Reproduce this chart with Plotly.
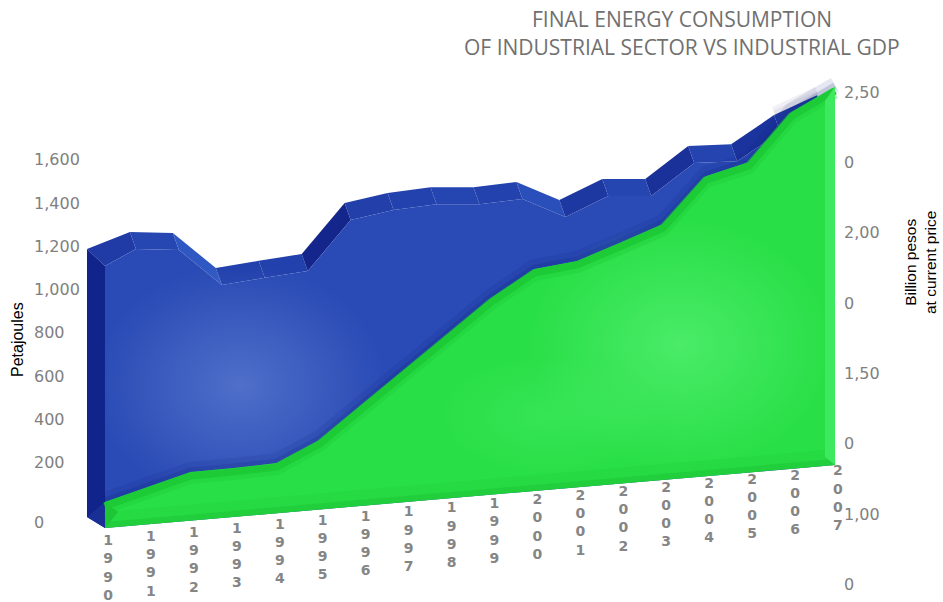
import numpy as np
import plotly.graph_objects as go

years = list(range(1990, 2008))
# Final energy consumption of the industrial sector (Petajoules)
energy = [1187, 1249, 1227, 1048, 1064, 1078, 1297, 1326, 1336, 1319,
          1326, 1225, 1305, 1288, 1424, 1415, 1532, 1607]
# Industrial GDP (billion pesos, right-hand scale)
gdp = [1.266, 1.307, 1.347, 1.348, 1.352, 1.421, 1.536, 1.647, 1.758, 1.873,
       1.963, 1.979, 2.030, 2.084, 2.241, 2.278, 2.443, 2.519]
gdp_floor = 1.174

left_tick_values = [-78, 200, 400, 600, 800, 1000, 1200, 1400, 1600]
left_tick_labels = ["0", "200", "400", "600", "800", "1,000", "1,200", "1,400", "1,600"]
right_tick_values = [0.75, 1.0, 1.25, 1.5, 1.75, 2.0, 2.25, 2.5]
right_tick_labels = ["0", "1,00", "0", "1,50", "0", "2,00", "0", "2,50"]
title_lines = ["FINAL ENERGY CONSUMPTION", "OF INDUSTRIAL SECTOR VS INDUSTRIAL GDP"]

W, H = 943, 602
PX_YEAR = 42.94
PX_E = 0.2165
PX_G = 281.2
xrange_ = [1990 - 105 / PX_YEAR, 1990 + (W - 105) / PX_YEAR]
yrange = [(506 - H) / PX_E, 506 / PX_E]
y2range = [1 + (514 - H) / PX_G, 1 + 514 / PX_G]
DEPTH_X = 18 / PX_YEAR
TILT_PX = 3.7  # rise of the floor per year, in pixels
yr = np.array(years, float)
idx = yr - 1990


def dE(px):
    return px / PX_E


def dG(px):
    return px / PX_G


e_back = np.array(energy) + dE(TILT_PX) * idx          # sheared back edge
x_back = yr - DEPTH_X
x_face = yr - DEPTH_X + 6 / PX_YEAR
x_face[0] = yr[0]
e_face = e_back - dE(17)
floor_e = dE(506 - 528) + dE(TILT_PX) * idx
g_top = np.array(gdp) - dG(TILT_PX) * (2007 - yr)
g_floor = gdp_floor - dG(TILT_PX) * (2007 - yr)

fig = go.Figure()


def poly(x, y, color, axis="y", **kw):
    fig.add_trace(go.Scatter(x=list(x), y=list(y), yaxis=axis, mode="lines", fill="toself",
                             fillcolor=color, line=dict(width=0, color=color),
                             hoverinfo="skip", showlegend=False, **kw))


def stroke(x, y, color, width, axis="y"):
    fig.add_trace(go.Scatter(x=list(x), y=list(y), yaxis=axis, mode="lines",
                             line=dict(color=color, width=width), hoverinfo="skip", showlegend=False))


def mix(a, b, t):
    return "rgb(%d,%d,%d)" % tuple(a[k] + (b[k] - a[k]) * t for k in range(3))


def facet(s):
    flat, dark, light = (38, 70, 178), (20, 38, 140), (48, 88, 194)
    return mix(flat, dark, min(-s / 1.2, 1)) if s < 0 else mix(flat, light, min(s / 0.8, 1))


def glow(cx, cy, rx, ry, axis, rgb, alpha):
    t = np.linspace(0, 2 * np.pi, 90)
    conv_y = (lambda p: (506 - p) / PX_E) if axis == "y" else (lambda p: 1 + (514 - p) / PX_G)
    xs = 1990 + (cx - 105 + rx * np.cos(t)) / PX_YEAR
    ys = conv_y(cy + ry * np.sin(t))
    fig.add_trace(go.Scatter(
        x=list(xs), y=list(ys), yaxis=axis, mode="none", fill="toself",
        fillgradient=dict(type="radial", colorscale=[[0, "rgba(%d,%d,%d,%.2f)" % (*rgb, alpha)],
                                                     [0.5, "rgba(%d,%d,%d,%.2f)" % (*rgb, alpha * 0.5)],
                                                     [1, "rgba(%d,%d,%d,0)" % rgb]]),
        hoverinfo="skip", showlegend=False))


# halo behind the top right corner
stroke(x_back[-2:], e_back[-2:] + dE(4), "rgba(120,110,150,0.10)", 9)
stroke(x_back[-2:], e_back[-2:] + dE(2), "rgba(120,110,150,0.10)", 5)

# chamfer strip of the blue volume, one facet per year
for i in range(len(years) - 1):
    s = (e_back[i] - e_back[i + 1]) * PX_E / 43
    poly([x_back[i], x_back[i + 1], x_face[i + 1], x_face[i]],
         [e_back[i], e_back[i + 1], e_face[i + 1], e_face[i]], facet(s))

# front face of the blue volume
poly(list(x_face) + list(yr[::-1]), list(e_face) + list(floor_e[::-1]), "#2a4ab5")
glow(240, 385, 145, 120, "y", (104, 136, 216), 0.6)

# side wall of the blue volume
poly([x_back[0], yr[0], yr[0], x_back[0]],
     [e_back[0], e_face[0], floor_e[0], dE(506 - 517)], "#10248c")
poly([x_back[0], yr[0], yr[0]],
     [dE(506 - 517), dE(506 - 502), floor_e[0]], "#1a2f96")

# dark shade that the green volume casts on the blue one
stroke(yr, g_top + dG(2), "rgba(14,28,120,0.10)", 16, "y2")
stroke(yr, g_top + dG(1), "rgba(14,28,120,0.16)", 7, "y2")

# green volume
poly(list(yr) + list(yr[::-1]), list(g_top) + list(g_floor[::-1]), "#29df47", "y2")
glow(550, 415, 110, 60, "y2", (80, 240, 112), 0.35)
glow(680, 345, 152, 125, "y2", (96, 244, 126), 0.6)
stroke(yr, g_floor + dG(8), "rgba(22,190,48,0.16)", 16, "y2")
stroke(yr, g_floor + dG(3), "rgba(22,180,48,0.30)", 6, "y2")
stroke(yr, g_top - dG(6), "rgba(28,203,54,0.35)", 12, "y2")
stroke(yr, g_top - dG(4), "#1ccb36", 7, "y2")
# light right-hand edge
edge = 10 / PX_YEAR
edge_top = g_top[-1] - (g_top[-1] - g_top[-2]) * edge
poly([yr[-1], yr[-1] - edge, yr[-1] - edge, yr[-1]],
     [g_top[-1], edge_top - dG(8), g_floor[-1] + dG(8), g_floor[-1]], "#3de95f", "y2")
# dark left-hand corner
poly([yr[0], yr[0] + 13 / PX_YEAR, yr[0]],
     [g_top[0], g_top[0] - dG(10), g_floor[0]], "#1cc636", "y2")

# year labels, stacked digit by digit along the tilted floor
fig.add_trace(go.Scatter(
    x=list(yr + 3 / PX_YEAR),
    y=list(dE(506 - 569) + dE(4.1) * idx),
    yaxis="y", mode="text",
    text=["<br>".join(str(y)) for y in years],
    textposition="middle center",
    textfont=dict(family="DejaVu Sans", size=14, color="#858585", weight="bold"),
    hoverinfo="skip", showlegend=False, cliponaxis=False))

tick_font = dict(family="DejaVu Sans", size=16, color="#808080")
title_font = dict(family="Open Sans", size=21, color="#707070")
label_font = dict(family="Liberation Sans", size=15.5, color="#000000")
left_label_font = dict(family="Liberation Sans", size=16, color="#000000")


def note(text, x, y, font, **kw):
    return dict(text=text, x=x / W, y=1 - y / H, xref="paper", yref="paper", showarrow=False,
                xanchor="center", yanchor="middle", font=font, **kw)


fig.update_layout(
    width=W, height=H, margin=dict(l=0, r=0, t=0, b=0), autosize=False,
    paper_bgcolor="white", plot_bgcolor="white",
    xaxis=dict(range=xrange_, visible=False, fixedrange=True),
    yaxis=dict(range=yrange, side="right", anchor="free", position=33 / W,
               showgrid=False, zeroline=False, showline=False, ticks="",
               tickmode="array", tickvals=left_tick_values, ticktext=left_tick_labels,
               tickfont=tick_font, fixedrange=True),
    yaxis2=dict(range=y2range, overlaying="y", side="right", anchor="free", position=843 / W,
                showgrid=False, zeroline=False, showline=False, ticks="",
                tickmode="array", tickvals=right_tick_values, ticktext=right_tick_labels,
                tickfont=tick_font, fixedrange=True),
    annotations=[
        note(title_lines[0], 681.5, 19, title_font),
        note(title_lines[1], 682, 47, title_font),
        note("Petajoules", 17, 340, left_label_font, textangle=-90),
        note("Billion pesos<br>at current price", 921, 263, label_font, textangle=-90),
    ],
)
fig.write_html("out.html", config={"displayModeBar": False},
               post_script="document.body.style.margin='0';document.body.style.overflow='hidden';")
